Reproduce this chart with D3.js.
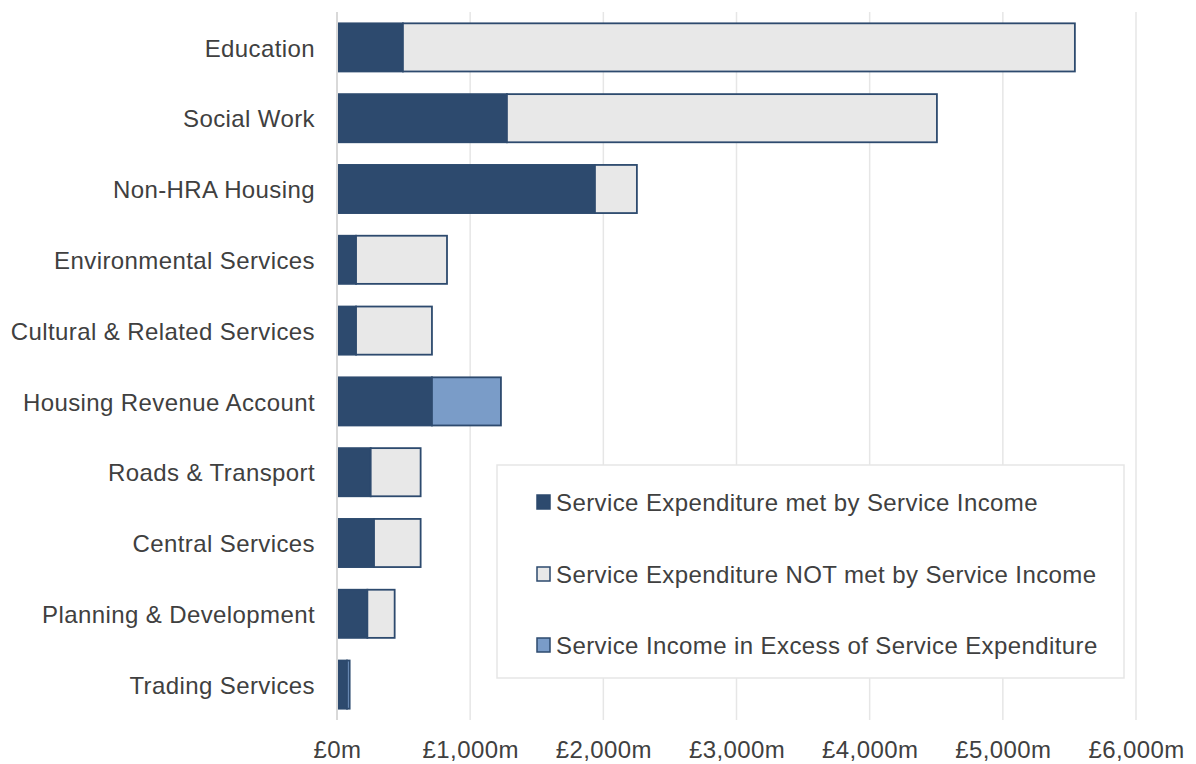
<!DOCTYPE html>
<html>
<head>
<meta charset="utf-8">
<script src="https://cdn.jsdelivr.net/npm/d3@7"></script>
<style>
  html, body { margin: 0; padding: 0; background: #fff; }
  svg { display: block; font-family: "Liberation Sans", Arial, sans-serif; }
  svg text { letter-spacing: 0.4px; }
</style>
</head>
<body>
<svg id="chart" width="1196" height="764"></svg>
<script>
// Service areas, top to bottom
const categories = [
  "Education", "Social Work", "Non-HRA Housing", "Environmental Services",
  "Cultural & Related Services", "Housing Revenue Account", "Roads & Transport",
  "Central Services", "Planning & Development", "Trading Services"
];
// £m values per series
const metByIncome    = [495, 1276, 1937, 143, 143, 713, 253, 278, 228, 75];
const notMetByIncome = [5046, 3229, 315, 683, 570, 0, 375, 350, 205, 0];
const incomeExcess   = [0, 0, 0, 0, 0, 518, 0, 0, 0, 20];

const seriesNames = [
  "Service Expenditure met by Service Income",
  "Service Expenditure NOT met by Service Income",
  "Service Income in Excess of Service Expenditure"
];
const seriesColors = ["#2d4a6e", "#e8e8e8", "#7a9cc8"];
const tickValues = [0, 1000, 2000, 3000, 4000, 5000, 6000];

const svg = d3.select("#chart");
const margin = { left: 337, right: 60, top: 12, bottom: 44 };
const W = 1196, H = 764;

const x = d3.scaleLinear().domain([0, 6000]).range([margin.left, W - margin.right]);
const y = d3.scaleBand().domain(categories).range([margin.top, H - margin.bottom]).paddingInner(0.32).paddingOuter(0.16);

const textColor = "#404040";

// gridlines
svg.append("g").selectAll("line").data(tickValues.slice(1)).join("line")
  .attr("x1", d => x(d)).attr("x2", d => x(d))
  .attr("y1", margin.top).attr("y2", H - margin.bottom)
  .attr("stroke", "#e6e6e6").attr("stroke-width", 1.5);

// x axis labels
const xAxis = d3.axisBottom(x).tickValues(tickValues).tickSize(0).tickPadding(0)
  .tickFormat(d => "£" + d3.format(",")(d) + "m");
const gx = svg.append("g").attr("transform", `translate(0,${H - margin.bottom})`).call(xAxis);
gx.select(".domain").remove();
gx.selectAll("text").attr("font-size", 24).attr("fill", textColor)
  .attr("dy", null).attr("y", 38);

// stacked data
const rows = categories.map((c, i) => ({
  cat: c, s0: metByIncome[i], s1: notMetByIncome[i], s2: incomeExcess[i]
}));
const stack = d3.stack().keys(["s0", "s1", "s2"]);
const stacked = stack(rows);

const bars = svg.append("g");
stacked.forEach((layer, li) => {
  bars.append("g").selectAll("rect")
    .data(layer.filter(d => d[1] - d[0] > 0))
    .join("rect")
    .attr("x", d => x(d[0]))
    .attr("y", d => y(d.data.cat))
    .attr("width", d => x(d[1]) - x(d[0]))
    .attr("height", y.bandwidth())
    .attr("fill", seriesColors[li])
    .attr("stroke", "#2d4a6e")
    .attr("stroke-width", 1.8);
});

// y axis line
svg.append("line")
  .attr("x1", x(0)).attr("x2", x(0))
  .attr("y1", margin.top).attr("y2", H - margin.bottom)
  .attr("stroke", "#d9d9d9").attr("stroke-width", 2);

// category labels
const yAxis = d3.axisLeft(y).tickSize(0).tickPadding(0);
const gy = svg.append("g").attr("transform", `translate(${x(0) - 22},0)`).call(yAxis);
gy.select(".domain").remove();
gy.selectAll("text").attr("font-size", 24).attr("fill", textColor).attr("x", 0).attr("dy", "0.38em");

// legend
const lg = svg.append("g");
lg.append("rect").attr("x", 497).attr("y", 465).attr("width", 627).attr("height", 213)
  .attr("fill", "#fff").attr("stroke", "#e6e6e6").attr("stroke-width", 1.5);
const rowsY = [502, 574, 645];
seriesNames.forEach((name, i) => {
  lg.append("rect").attr("x", 537).attr("y", rowsY[i] - 7).attr("width", 13).attr("height", 14)
    .attr("fill", seriesColors[i]).attr("stroke", "#2d4a6e").attr("stroke-width", 1.5);
  lg.append("text").attr("x", 556).attr("y", rowsY[i]).attr("dy", "0.38em")
    .attr("font-size", 24).attr("fill", textColor).text(name);
});
</script>
</body>
</html>
